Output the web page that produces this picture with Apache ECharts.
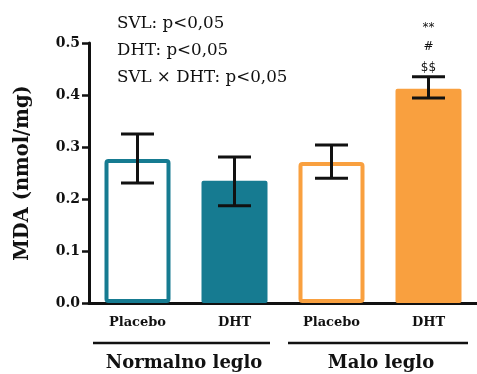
<!DOCTYPE html>
<html>
<head>
<meta charset="utf-8">
<script src="https://cdn.jsdelivr.net/npm/echarts@6/dist/echarts.min.js"></script>
<style>html,body{margin:0;padding:0;background:#fff}#c{width:477px;height:374px}</style>
</head>
<body>
<div id="c"></div>
<script>
const categories = ['Placebo', 'DHT', 'Placebo', 'DHT'];
const groups = ['Normalno leglo', 'Malo leglo'];
const means = [0.277, 0.235, 0.271, 0.412];
const errLow = [0.231, 0.187, 0.240, 0.394];
const errHigh = [0.325, 0.281, 0.304, 0.435];
const sigMarks = [[], [], [], ['$$', '#', '**']];
const annotations = ['SVL: p<0,05', 'DHT: p<0,05', 'SVL \u00d7 DHT: p<0,05'];
const yMin = 0, yMax = 0.5, yStep = 0.1;

const TEAL = '#167b91';
const ORANGE = '#f9a03f';
const barColors = [TEAL, TEAL, ORANGE, ORANGE];
const hollow = [true, false, true, false];
const SERIF = "'DejaVu Serif', serif";

const chart = echarts.init(document.getElementById('c'));

const barData = means.map((v, i) => ({
  value: v,
  itemStyle: hollow[i]
    ? { color: '#ffffff', borderColor: barColors[i], borderWidth: 4, borderRadius: 2 }
    : { color: barColors[i], borderColor: barColors[i], borderWidth: 0, borderRadius: 2 }
}));

const errData = means.map((v, i) => [i, errLow[i], errHigh[i]]);

const option = {
  animation: false,
  grid: { left: 89, top: 43, width: 392, height: 260, containLabel: false },
  xAxis: {
    type: 'category',
    data: categories,
    axisLine: { lineStyle: { color: '#111', width: 3 } },
    axisTick: { alignWithLabel: true, length: 8, lineStyle: { color: '#111', width: 3 } },
    axisLabel: { color: '#111', fontFamily: SERIF, fontWeight: 'bold', fontSize: 13, margin: 13 }
  },
  yAxis: {
    type: 'value',
    min: yMin, max: yMax, interval: yStep,
    name: 'MDA (nmol/mg)',
    nameLocation: 'middle',
    nameGap: 56,
    nameTextStyle: { color: '#111', fontFamily: SERIF, fontWeight: 'bold', fontSize: 19.5 },
    axisLine: { show: true, lineStyle: { color: '#111', width: 3 } },
    axisTick: { show: true, length: 7, lineStyle: { color: '#111', width: 2.5 } },
    axisLabel: { color: '#111', fontFamily: SERIF, fontWeight: 'bold', fontSize: 14, margin: 9,
      formatter: v => v.toFixed(1) },
    splitLine: { show: false }
  },
  series: [
    {
      type: 'bar',
      data: barData,
      barWidth: 66,
      z: 2
    },
    {
      type: 'custom',
      z: 5,
      data: errData,
      renderItem: function (params, api) {
        const i = api.value(0);
        const lo = api.coord([i, api.value(1)]);
        const hi = api.coord([i, api.value(2)]);
        const x = lo[0];
        const hw = 16.5;
        const st = { stroke: '#111', lineWidth: 3 };
        const children = [
          { type: 'line', shape: { x1: x, y1: lo[1], x2: x, y2: hi[1] }, style: st },
          { type: 'line', shape: { x1: x - hw, y1: lo[1], x2: x + hw, y2: lo[1] }, style: st },
          { type: 'line', shape: { x1: x - hw, y1: hi[1], x2: x + hw, y2: hi[1] }, style: st }
        ];
        const offs = [9, 30, 49];
        sigMarks[i].forEach((m, k) => {
          children.push({
            type: 'text',
            style: { text: m, x: x, y: hi[1] - offs[k], align: 'center', verticalAlign: 'middle',
              font: "12px 'DejaVu Sans', sans-serif", fill: '#111' }
          });
        });
        return { type: 'group', children: children };
      }
    }
  ],
  graphic: [
    ...annotations.map((t, k) => ({
      type: 'text', left: 117, top: 15 + k * 27,
      style: { text: t, font: "16.7px " + SERIF, fill: '#111' }
    })),
    { type: 'line', shape: { x1: 93, y1: 343, x2: 270, y2: 343 }, style: { stroke: '#111', lineWidth: 2.5 } },
    { type: 'line', shape: { x1: 288, y1: 343, x2: 468, y2: 343 }, style: { stroke: '#111', lineWidth: 2.5 } },
    { type: 'text', x: 184, y: 363, style: { text: groups[0], align: 'center', verticalAlign: 'middle',
      font: "bold 18px " + SERIF, fill: '#111' } },
    { type: 'text', x: 381, y: 363, style: { text: groups[1], align: 'center', verticalAlign: 'middle',
      font: "bold 18px " + SERIF, fill: '#111' } }
  ]
};
chart.setOption(option);
</script>
</body>
</html>
